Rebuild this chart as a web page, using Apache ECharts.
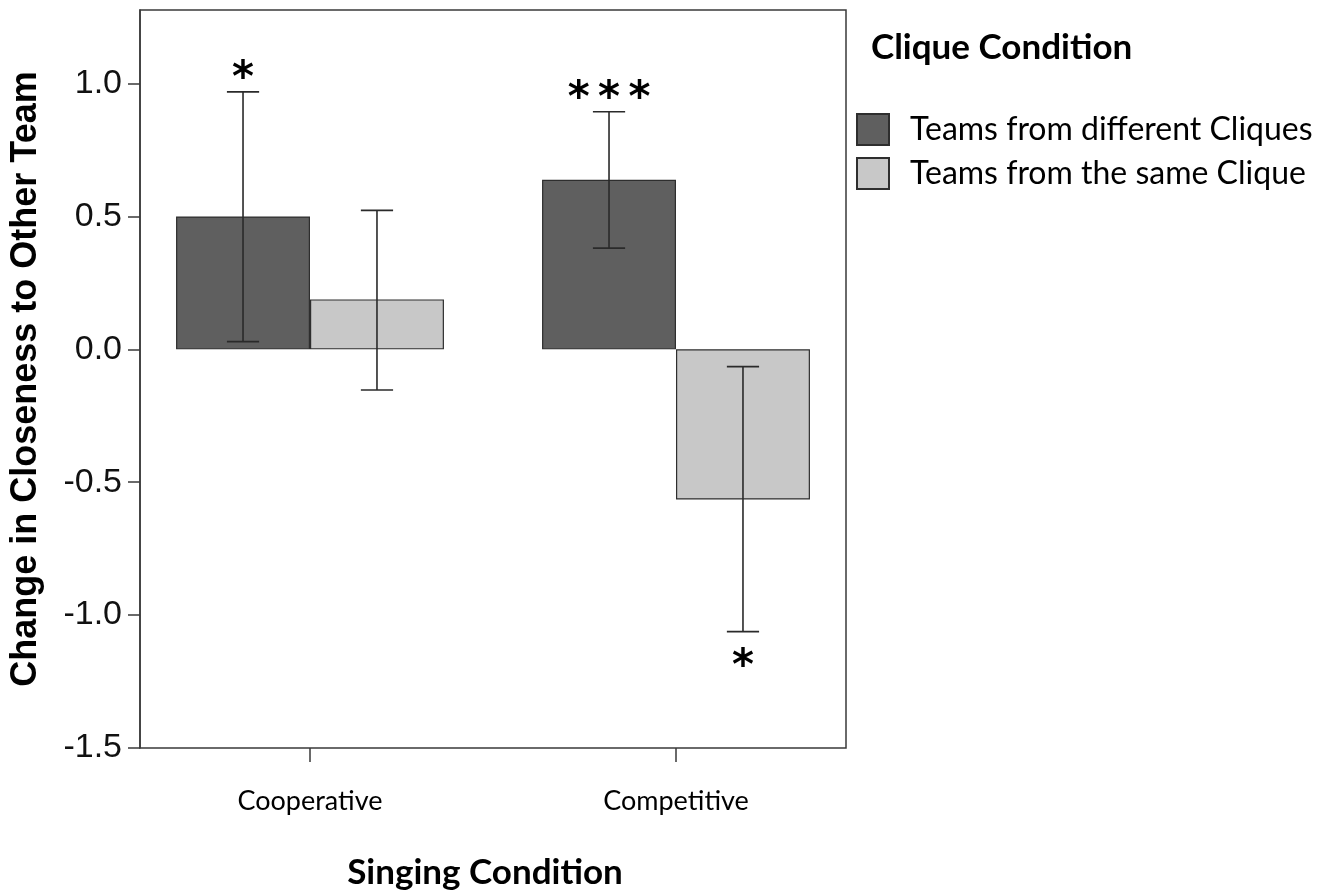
<!DOCTYPE html>
<html>
<head>
<meta charset="utf-8">
<script src="https://cdn.jsdelivr.net/npm/echarts@6/dist/echarts.min.js"></script>
<style>html,body{margin:0;padding:0;background:#fff}#c{width:1336px;height:892px}</style>
</head>
<body>
<div id="c"></div>
<script>
// ---- data ----
const categories = ['Cooperative', 'Competitive'];
const seriesNames = ['Teams from different Cliques', 'Teams from the same Clique'];
const meanDifferent = [0.50, 0.638];
const meanSame = [0.188, -0.565];
const lowDifferent = [0.029, 0.381];
const highDifferent = [0.969, 0.894];
const lowSame = [-0.153, -1.062];
const highSame = [0.523, -0.065];
const sigDifferent = ['*', '***'];
const sigSame = ['', '*'];
const yTicks = [-1.5, -1.0, -0.5, 0.0, 0.5, 1.0];

// ---- build ----
const errData = [];
categories.forEach((c, i) => {
  errData.push([i, lowDifferent[i], highDifferent[i], 0, meanDifferent[i], sigDifferent[i]]);
  errData.push([i, lowSame[i], highSame[i], 1, meanSame[i], sigSame[i]]);
});

const Y_MIN = -1.5, Y_MAX = 1.277;
const chart = echarts.init(document.getElementById('c'), null, {renderer: 'canvas'});

function renderErr(params, api) {
  const cat = api.value(0), lo = api.value(1), hi = api.value(2), g = api.value(3), mean = api.value(4);
  const sig = errData[params.dataIndex][5];
  const band = api.size([1, 0])[0];
  const off = (g === 0 ? -1 : 1) * band * 0.183;
  const pLo = api.coord([cat, lo]);
  const pHi = api.coord([cat, hi]);
  const x = pLo[0] + off;
  const cap = band * 0.044;
  const ls = {stroke: '#2a2a2a', lineWidth: 1.6};
  const children = [
    {type: 'line', shape: {x1: x, y1: pLo[1], x2: x, y2: pHi[1]}, style: ls},
    {type: 'line', shape: {x1: x - cap, y1: pLo[1], x2: x + cap, y2: pLo[1]}, style: ls},
    {type: 'line', shape: {x1: x - cap, y1: pHi[1], x2: x + cap, y2: pHi[1]}, style: ls}
  ];
  if (sig) {
    const above = mean >= 0;
    const ty = above ? pHi[1] - 12 : pLo[1] + 36;
    children.push({
      type: 'text',
      style: {
        text: sig.split('').join('\u2009'), x: x, y: ty,
        align: 'center', verticalAlign: 'middle',
        fontSize: 42, fontWeight: 'bold', fontFamily: 'DejaVu Sans', fill: '#000'
      }
    });
  }
  return {type: 'group', children: children};
}

const option = {
  animation: false,
  backgroundColor: '#fff',
  title: {
    text: 'Clique Condition', left: 871, top: 30, padding: 0,
    textStyle: {fontFamily: 'Lato', fontWeight: 'bold', fontSize: 35, color: '#000'}
  },
  legend: {
    data: seriesNames, orient: 'vertical', left: 856, top: 113, padding: 0,
    itemWidth: 32, itemHeight: 31, itemGap: 11, icon: 'rect',
    textStyle: {fontFamily: 'Lato', fontSize: 32, lineHeight: 31, color: '#000', padding: [0, 0, 0, 16]}
  },
  grid: [
    {left: 140, right: 490, top: 10, bottom: 144, outerBoundsMode: 'none', show: true, borderColor: '#3a3a3a', borderWidth: 1.5, backgroundColor: 'transparent'},
    {left: 127, right: 477, top: 10, bottom: 144, outerBoundsMode: 'none'}
  ],
  xAxis: [
    {gridIndex: 0, type: 'category', data: categories, show: false},
    {
      gridIndex: 1, type: 'category', data: categories,
      axisLine: {show: false, onZero: false},
      axisTick: {show: true, alignWithLabel: true, length: 14, lineStyle: {color: '#3a3a3a', width: 1.5}},
      axisLabel: {margin: 40, fontFamily: 'Lato', fontSize: 27, color: '#000'},
      name: 'Singing Condition', nameLocation: 'middle', nameGap: 107,
      nameTextStyle: {fontFamily: 'Lato', fontWeight: 'bold', fontSize: 35, color: '#000', padding: [0, 16, 0, 0]}
    }
  ],
  yAxis: [
    {
      gridIndex: 0, type: 'value', min: Y_MIN, max: Y_MAX, interval: 0.5,
      splitLine: {show: false},
      axisLine: {show: true, lineStyle: {color: '#3a3a3a', width: 1.5}},
      axisTick: {show: true, length: 12, customValues: yTicks, lineStyle: {color: '#3a3a3a', width: 1.5}},
      axisLabel: {
        margin: 18, fontFamily: 'Liberation Sans', fontSize: 34, color: '#111',
        customValues: yTicks, formatter: v => v.toFixed(1)
      },
      name: 'Change in Closeness to Other Team', nameLocation: 'middle', nameGap: 96,
      nameTextStyle: {fontFamily: 'Liberation Sans', fontWeight: 'bold', fontSize: 36, color: '#000'}
    },
    {gridIndex: 1, type: 'value', min: Y_MIN, max: Y_MAX, show: false, splitLine: {show: false}}
  ],
  series: [
    {
      name: seriesNames[0], type: 'bar', xAxisIndex: 1, yAxisIndex: 1,
      data: meanDifferent, barWidth: '36.6%', barGap: '0%',
      itemStyle: {color: '#5f5f5f', borderColor: '#2e2e2e', borderWidth: 1.2}
    },
    {
      name: seriesNames[1], type: 'bar', xAxisIndex: 1, yAxisIndex: 1,
      data: meanSame, barWidth: '36.6%', barGap: '0%',
      itemStyle: {color: '#c8c8c8', borderColor: '#2e2e2e', borderWidth: 1.2}
    },
    {
      type: 'custom', xAxisIndex: 1, yAxisIndex: 1, z: 5,
      renderItem: renderErr,
      encode: {x: 0, y: [1, 2]},
      data: errData.map(d => d.slice(0, 5))
    }
  ]
};
chart.setOption(option);
</script>
</body>
</html>
